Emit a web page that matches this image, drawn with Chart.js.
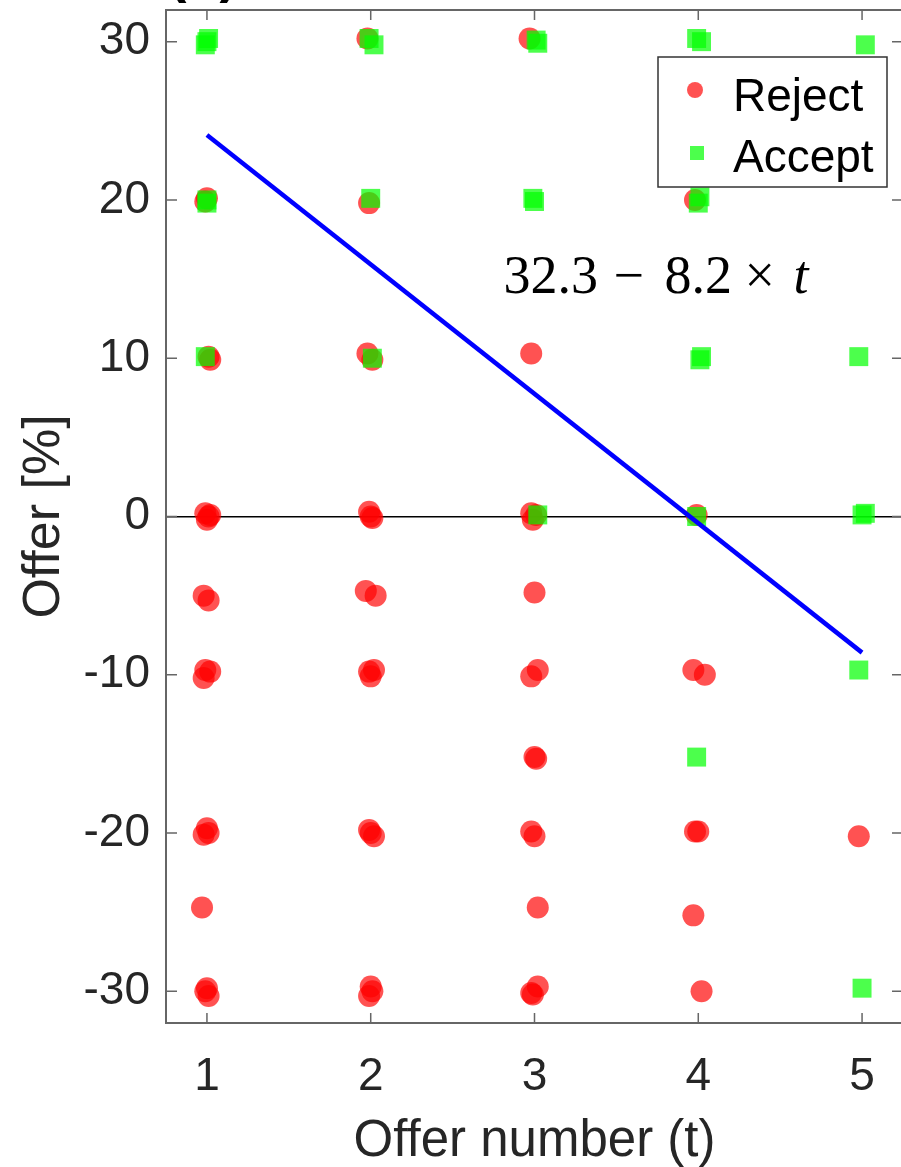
<!DOCTYPE html>
<html>
<head>
<meta charset="utf-8">
<script src="https://cdn.jsdelivr.net/npm/chart.js@4"></script>
<style>
  html, body { margin: 0; padding: 0; background: #fff; overflow: hidden; }
  #wrap { width: 901px; height: 1167px; overflow: hidden; }
</style>
</head>
<body>
<div id="wrap"><canvas id="c" width="910" height="1167"></canvas></div>
<script>
// offers that were rejected (t with a bit of jitter, offer in %)
const rejectT = [
  1.00, 0.99, 1.01, 1.02, 0.99, 1.01, 1.00, 1.02, 0.98, 1.01, 0.99, 1.02, 0.98, 1.00, 0.98, 1.01, 0.97, 1.00, 1.01, 0.99,
  1.98, 1.99, 1.98, 2.01, 1.99, 2.01, 2.00, 1.97, 2.03, 1.99, 2.02, 2.00, 1.99, 2.02, 2.00, 2.00, 1.99, 2.01,
  2.97, 2.98, 2.98, 2.99, 3.01, 3.00, 3.02, 2.98, 3.00, 3.01, 2.98, 3.00, 3.02, 3.02, 2.99, 2.98,
  3.98, 3.99, 3.97, 4.04, 3.98, 4.00, 3.97, 4.02,
  4.98
]
const rejectOffer = [
  20.1, 19.9, 10.1, 9.9, 0.2, 0.0, -0.2, 0.1, -5.0, -5.3, -9.7, -9.8, -10.2, -19.7, -20.1, -20.0, -24.7, -29.8, -30.3, -30.0,
  30.2, 19.8, 10.3, 9.9, 0.3, -0.1, 0.0, -4.7, -5.0, -9.8, -9.7, -10.1, -19.8, -20.2, -20.0, -29.7, -30.3, -30.0,
  30.2, 10.3, 0.2, -0.2, 0.1, -4.8, -9.7, -10.1, -15.2, -15.3, -19.9, -20.2, -24.7, -29.7, -30.2, -30.1,
  20.0, 0.1, -9.7, -10.0, -19.9, -19.9, -25.2, -30.0,
  -20.2
]

// offers that were accepted
const acceptT = [
  1.00, 1.01, 0.99, 1.00, 1.00, 0.99,
  1.99, 2.02, 2.00, 2.01,
  3.01, 3.02, 2.99, 3.00, 3.02,
  3.99, 4.02, 4.01, 4.00, 4.01, 4.02, 3.99, 3.99,
  5.02, 4.98, 5.00, 5.02, 4.98, 5.00
]
const acceptOffer = [
  30.0, 30.2, 29.8, 20.0, 19.8, 10.1,
  30.2, 29.8, 20.1, 10.0,
  30.1, 29.9, 20.1, 19.9, 0.1,
  30.2, 30.0, 20.2, 19.8, 9.9, 10.1, 0.0, -15.2,
  29.8, 10.1, 0.1, 0.2, -9.7, -29.8
]

// fitted threshold line 32.3 - 8.2 t, end points
const fitT = [1, 5]
const fitOffer = [24.1, -8.6]

const xTicks = [1, 2, 3, 4, 5]
const yTicks = [-30, -20, -10, 0, 10, 20, 30]
const eqAnchor = { t: 2.81, offer: 14.1 }

const toPoints = (xs, ys) => xs.map((x, i) => ({ x: x, y: ys[i] }))

const sans = "'Liberation Sans', Arial, Helvetica, sans-serif"
const axisColor = '#666666'
const textColor = '#262626'

// box, inward ticks, equation, legend, panel title
const decor = {
  id: 'decor',
  afterDatasetsDraw(chart) {
    const { ctx, chartArea: a, scales } = chart
    const xs = scales.x, ys = scales.y
    ctx.save()
    ctx.strokeStyle = axisColor
    ctx.lineWidth = 2
    ctx.strokeRect(a.left, a.top, a.right - a.left, a.bottom - a.top)
    ctx.lineWidth = 1.5
    ctx.beginPath()
    xTicks.forEach(v => {
      const px = xs.getPixelForValue(v)
      ctx.moveTo(px, a.bottom); ctx.lineTo(px, a.bottom - 10)
      ctx.moveTo(px, a.top); ctx.lineTo(px, a.top + 10)
    })
    yTicks.forEach(v => {
      const py = ys.getPixelForValue(v)
      ctx.moveTo(a.left, py); ctx.lineTo(a.left + 11, py)
      ctx.moveTo(a.right, py); ctx.lineTo(a.right - 11, py)
    })
    ctx.stroke()

    // equation of the line
    const ex = xs.getPixelForValue(eqAnchor.t)
    const ey = ys.getPixelForValue(eqAnchor.offer)
    ctx.fillStyle = '#000'
    ctx.textBaseline = 'alphabetic'
    ctx.textAlign = 'left'
    ctx.font = "54px 'Liberation Serif', 'Times New Roman', serif"
    ctx.fillText('32.3', ex, ey)
    ctx.fillText('\u2212', ex + 110, ey)
    ctx.fillText('8.2', ex + 161, ey)
    ctx.fillText('\u00d7', ex + 241, ey)
    ctx.font = "italic 54px 'Liberation Serif', 'Times New Roman', serif"
    ctx.fillText('t', ex + 290, ey)

    // legend
    const lx = a.right - 245, ly = a.top + 47, lw = 229, lh = 130
    ctx.fillStyle = '#fff'
    ctx.fillRect(lx, ly, lw, lh)
    ctx.strokeStyle = '#333'
    ctx.lineWidth = 1.5
    ctx.strokeRect(lx, ly, lw, lh)
    ctx.fillStyle = 'rgba(255,0,0,0.68)'
    ctx.beginPath()
    ctx.arc(lx + 37, ly + 33, 8, 0, Math.PI * 2)
    ctx.fill()
    ctx.fillStyle = 'rgba(0,255,0,0.7)'
    ctx.fillRect(lx + 32, ly + 89, 14, 14)
    ctx.fillStyle = '#000'
    ctx.font = '46px ' + sans
    ctx.fillText('Reject', lx + 75, ly + 54)
    ctx.fillText('Accept', lx + 75, ly + 115)

    // panel label, mostly cropped at the top
    ctx.font = 'bold 54px ' + sans
    ctx.textAlign = 'center'
    ctx.fillText('(b)', a.left + 37, -8)
    ctx.restore()
  }
}

new Chart(document.getElementById('c'), {
  type: 'scatter',
  data: {
    datasets: [
      {
        type: 'line',
        label: 'fit',
        data: toPoints(fitT, fitOffer),
        borderColor: '#0000ff',
        borderWidth: 4.5,
        pointRadius: 0,
        fill: false,
        order: 0,
      },
      {
        label: 'Accept',
        data: toPoints(acceptT, acceptOffer),
        pointStyle: 'rect',
        pointRadius: 13.4,
        backgroundColor: 'rgba(0,255,0,0.7)',
        borderWidth: 0,
        order: 1,
      },
      {
        label: 'Reject',
        data: toPoints(rejectT, rejectOffer),
        pointStyle: 'circle',
        pointRadius: 11,
        backgroundColor: 'rgba(255,0,0,0.68)',
        borderWidth: 0,
        order: 2,
      },
    ],
  },
  options: {
    responsive: false,
    animation: false,
    devicePixelRatio: 1,
    layout: { autoPadding: false, padding: { top: 10, right: 7, left: 0, bottom: 0 } },
    plugins: { legend: { display: false }, tooltip: { enabled: false } },
    scales: {
      x: {
        type: 'linear',
        min: 0.75,
        max: 5.25,
        afterBuildTicks: s => { s.ticks = xTicks.map(v => ({ value: v })) },
        afterFit: s => { s.height = 144; s.paddingLeft = 0; s.paddingRight = 0 },
        border: { display: false },
        grid: { display: false, drawTicks: false },
        ticks: { color: textColor, font: { family: sans, size: 46 }, padding: 27, maxRotation: 0 },
        title: {
          display: true,
          text: 'Offer number (t)',
          color: textColor,
          font: { family: sans, size: 51, lineHeight: 1 },
          padding: { top: 0, bottom: 0 },
        },
      },
      y: {
        type: 'linear',
        min: -32,
        max: 32,
        afterBuildTicks: s => { s.ticks = yTicks.map(v => ({ value: v })) },
        afterFit: s => { s.width = 166; s.paddingTop = 0; s.paddingBottom = 0 },
        border: { display: false },
        grid: {
          drawTicks: false,
          color: c => (c.tick && c.tick.value === 0 ? '#000' : 'rgba(0,0,0,0)'),
          lineWidth: 1.5,
        },
        ticks: { color: textColor, font: { family: sans, size: 46 }, padding: 16 },
        title: {
          display: true,
          text: 'Offer [%]',
          color: textColor,
          font: { family: sans, size: 52, lineHeight: 1 },
          padding: { top: 19, bottom: 0 },
        },
      },
    },
  },
  plugins: [decor],
})
</script>
</body>
</html>
